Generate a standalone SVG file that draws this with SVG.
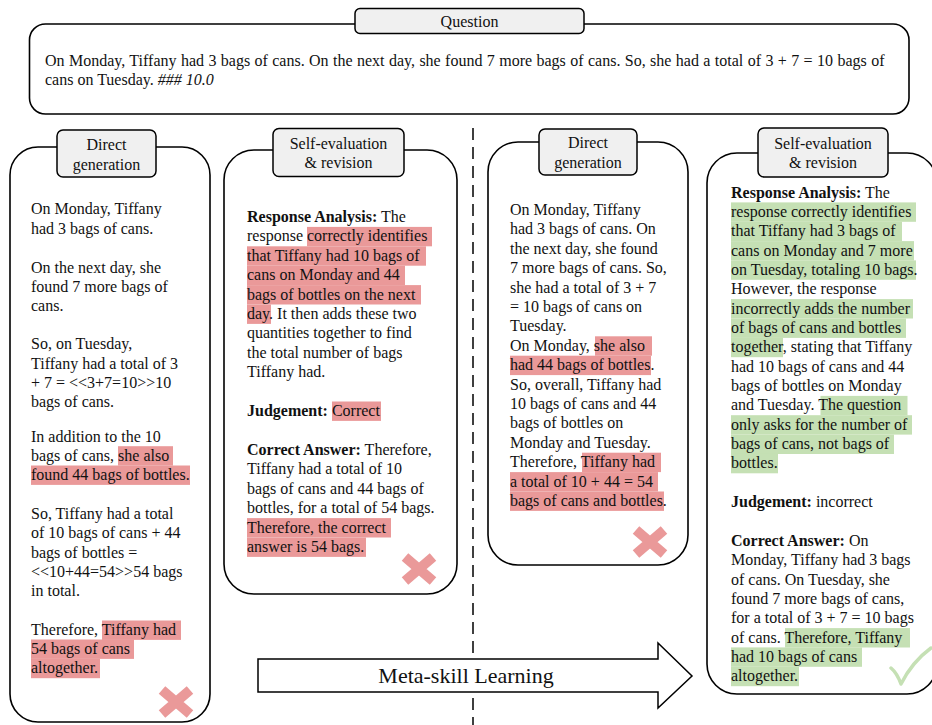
<svg xmlns="http://www.w3.org/2000/svg" width="932" height="725" viewBox="0 0 932 725">
<style>
.t{font-family:"Liberation Serif","Times New Roman",serif;font-size:16px;fill:#111}
.b{font-weight:bold}
.lab{font-family:"Liberation Serif","Times New Roman",serif;font-size:16px;fill:#111;text-anchor:middle}
.box{fill:#fff;stroke:#000;stroke-width:1.6}
.tab{fill:#f0f0f0;stroke:#000;stroke-width:1.5}
.hr{fill:#ea9999}
.hg{fill:#c5e0b4}
.x{stroke:#ea9999;stroke-width:10;fill:none}
</style>
<defs>
<path id="cross" d="M-14,-12 L14,12 M-14,12 L14,-12"/>
</defs>
<rect width="932" height="725" fill="#fff"/>

<g id="connectors">
<line x1="473" y1="128" x2="473" y2="725" stroke="#000" stroke-width="1.5" stroke-dasharray="12,7"/>
<polygon points="258,659 658,659 658,643 692,676 658,708 658,692 258,692" fill="#fff" stroke="#000" stroke-width="1.5"/>
<text x="466" y="683" style="font-family:'Liberation Serif','Times New Roman',serif;font-size:22px;fill:#111;text-anchor:middle">Meta-skill Learning</text>
</g>

<g id="question">
<rect class="box" x="29.5" y="24" width="879.5" height="90" rx="16"/>
<rect class="tab" x="355" y="8.5" width="229" height="25" rx="5"/>
<text class="lab" x="469.5" y="26.5">Question</text>
<text class="t" x="45" y="66" word-spacing="0.4">On Monday, Tiffany had 3 bags of cans. On the next day, she found 7 more bags of cans. So, she had a total of 3 + 7 = 10 bags of</text>
<text class="t" x="45" y="85">cans on Tuesday. <tspan font-style="italic">### 10.0</tspan></text>
</g>

<g id="direct-generation-1">
<rect class="box" x="10" y="147" width="200" height="575" rx="28"/>
<rect class="tab" x="57" y="130" width="99" height="47" rx="6"/>
<text class="lab" x="106.5" y="150">Direct</text>
<text class="lab" x="106.5" y="169.5">generation</text>
<rect class="hr" x="118" y="446.2" width="55" height="19.4"/>
<rect class="hr" x="31" y="465.5" width="159" height="19.4"/>
<rect class="hr" x="102" y="620.5" width="79" height="19.4"/>
<rect class="hr" x="31" y="639.5" width="103" height="19.4"/>
<rect class="hr" x="31" y="658.8" width="69" height="19.4"/>
<text class="t" x="31" y="214">On Monday, Tiffany</text>
<text class="t" x="31" y="233.5">had 3 bags of cans.</text>
<text class="t" x="31" y="272.5">On the next day, she</text>
<text class="t" x="31" y="291.5">found 7 more bags of</text>
<text class="t" x="31" y="310.5">cans.</text>
<text class="t" x="31" y="349">So, on Tuesday,</text>
<text class="t" x="31" y="368.5">Tiffany had a total of 3</text>
<text class="t" x="31" y="387.5">+ 7 = &lt;&lt;3+7=10&gt;&gt;10</text>
<text class="t" x="31" y="407">bags of cans.</text>
<text class="t" x="31" y="441.7">In addition to the 10</text>
<text class="t" x="31" y="460.7">bags of cans, she also</text>
<text class="t" x="31" y="480">found 44 bags of bottles.</text>
<text class="t" x="31" y="519">So, Tiffany had a total</text>
<text class="t" x="31" y="538.3">of 10 bags of cans + 44</text>
<text class="t" x="31" y="557.6">bags of bottles =</text>
<text class="t" x="31" y="576.9">&lt;&lt;10+44=54&gt;&gt;54 bags</text>
<text class="t" x="31" y="596.2">in total.</text>
<text class="t" x="31" y="635">Therefore, Tiffany had</text>
<text class="t" x="31" y="654">54 bags of cans</text>
<text class="t" x="31" y="673.3">altogether.</text>
<use href="#cross" class="x" transform="translate(176,702)"/>
</g>

<g id="self-evaluation-1">
<rect class="box" x="224" y="150" width="233" height="444" rx="30"/>
<rect class="tab" x="273" y="128.5" width="131" height="48" rx="6"/>
<text class="lab" x="338.5" y="149">Self-evaluation</text>
<text class="lab" x="338.5" y="168">&amp; revision</text>
<rect class="hr" x="307" y="226.9" width="125" height="19.4"/>
<rect class="hr" x="247" y="246.3" width="179" height="19.4"/>
<rect class="hr" x="247" y="265.7" width="158" height="19.4"/>
<rect class="hr" x="247" y="285.1" width="174" height="19.4"/>
<rect class="hr" x="247" y="304.5" width="24" height="19.4"/>
<rect class="hr" x="332" y="401.5" width="49" height="19.4"/>
<rect class="hr" x="247" y="518.1" width="144" height="19.4"/>
<rect class="hr" x="247" y="537.5" width="119" height="19.4"/>
<text class="t" x="247" y="222"><tspan class="b">Response Analysis:</tspan> The</text>
<text class="t" x="247" y="241.4">response correctly identifies</text>
<text class="t" x="247" y="260.8">that Tiffany had 10 bags of</text>
<text class="t" x="247" y="280.2">cans on Monday and 44</text>
<text class="t" x="247" y="299.6">bags of bottles on the next</text>
<text class="t" x="247" y="319">day. It then adds these two</text>
<text class="t" x="247" y="338.4">quantities together to find</text>
<text class="t" x="247" y="357.8">the total number of bags</text>
<text class="t" x="247" y="377.2">Tiffany had.</text>
<text class="t" x="247" y="416"><tspan class="b">Judgement:</tspan> Correct</text>
<text class="t" x="247" y="455"><tspan class="b">Correct Answer:</tspan> Therefore,</text>
<text class="t" x="247" y="474.4">Tiffany had a total of 10</text>
<text class="t" x="247" y="493.8">bags of cans and 44 bags of</text>
<text class="t" x="247" y="513.2">bottles, for a total of 54 bags.</text>
<text class="t" x="247" y="532.6">Therefore, the correct</text>
<text class="t" x="247" y="552">answer is 54 bags.</text>
<use href="#cross" class="x" transform="translate(419,569)"/>
</g>

<g id="direct-generation-2">
<rect class="box" x="488" y="142" width="200" height="423" rx="30"/>
<rect class="tab" x="539" y="129" width="98" height="46" rx="6"/>
<text class="lab" x="588" y="148">Direct</text>
<text class="lab" x="588" y="167.5">generation</text>
<rect class="hr" x="595" y="336.3" width="57" height="19.4"/>
<rect class="hr" x="510" y="355.7" width="141" height="19.4"/>
<rect class="hr" x="582" y="452.7" width="79" height="19.4"/>
<rect class="hr" x="510" y="472.1" width="148" height="19.4"/>
<rect class="hr" x="510" y="491.5" width="154" height="19.4"/>
<text class="t" x="510" y="215">On Monday, Tiffany</text>
<text class="t" x="510" y="234.4">had 3 bags of cans. On</text>
<text class="t" x="510" y="253.8">the next day, she found</text>
<text class="t" x="510" y="273.2">7 more bags of cans. So,</text>
<text class="t" x="510" y="292.6">she had a total of 3 + 7</text>
<text class="t" x="510" y="312">= 10 bags of cans on</text>
<text class="t" x="510" y="331.4">Tuesday.</text>
<text class="t" x="510" y="350.8">On Monday, she also</text>
<text class="t" x="510" y="370.2">had 44 bags of bottles.</text>
<text class="t" x="510" y="389.6">So, overall, Tiffany had</text>
<text class="t" x="510" y="409">10 bags of cans and 44</text>
<text class="t" x="510" y="428.4">bags of bottles on</text>
<text class="t" x="510" y="447.8">Monday and Tuesday.</text>
<text class="t" x="510" y="467.2">Therefore, Tiffany had</text>
<text class="t" x="510" y="486.6">a total of 10 + 44 = 54</text>
<text class="t" x="510" y="506">bags of cans and bottles.</text>
<use href="#cross" class="x" transform="translate(650,542)"/>
</g>

<g id="self-evaluation-2">
<rect class="box" x="707" y="153" width="230" height="541" rx="30"/>
<rect class="tab" x="758" y="128" width="130" height="49" rx="6"/>
<text class="lab" x="823" y="149">Self-evaluation</text>
<text class="lab" x="823" y="167.5">&amp; revision</text>
<rect class="hg" x="731" y="202.4" width="185" height="19.4"/>
<rect class="hg" x="731" y="221.7" width="171" height="19.4"/>
<rect class="hg" x="731" y="241.1" width="183" height="19.4"/>
<rect class="hg" x="731" y="260.4" width="185" height="19.4"/>
<rect class="hg" x="731" y="299.1" width="182" height="19.4"/>
<rect class="hg" x="731" y="318.5" width="175" height="19.4"/>
<rect class="hg" x="731" y="337.8" width="52" height="19.4"/>
<rect class="hg" x="820.5" y="395.9" width="87" height="19.4"/>
<rect class="hg" x="731" y="415.2" width="181" height="19.4"/>
<rect class="hg" x="731" y="434.6" width="163" height="19.4"/>
<rect class="hg" x="731" y="453.9" width="47" height="19.4"/>
<rect class="hg" x="785" y="628.1" width="125" height="19.4"/>
<rect class="hg" x="731" y="647.4" width="131" height="19.4"/>
<rect class="hg" x="731" y="666.8" width="68" height="19.4"/>
<text class="t" x="731" y="197.5"><tspan class="b">Response Analysis:</tspan> The</text>
<text class="t" x="731" y="216.9">response correctly identifies</text>
<text class="t" x="731" y="236.2">that Tiffany had 3 bags of</text>
<text class="t" x="731" y="255.6">cans on Monday and 7 more</text>
<text class="t" x="731" y="274.9">on Tuesday, totaling 10 bags.</text>
<text class="t" x="731" y="294.3">However, the response</text>
<text class="t" x="731" y="313.6">incorrectly adds the number</text>
<text class="t" x="731" y="333">of bags of cans and bottles</text>
<text class="t" x="731" y="352.3">together, stating that Tiffany</text>
<text class="t" x="731" y="371.7">had 10 bags of cans and 44</text>
<text class="t" x="731" y="391">bags of bottles on Monday</text>
<text class="t" x="731" y="410.4">and Tuesday. The question</text>
<text class="t" x="731" y="429.7">only asks for the number of</text>
<text class="t" x="731" y="449.1">bags of cans, not bags of</text>
<text class="t" x="731" y="468.4">bottles.</text>
<text class="t" x="731" y="507.1"><tspan class="b">Judgement:</tspan> incorrect</text>
<text class="t" x="731" y="545.8"><tspan class="b">Correct Answer:</tspan> On</text>
<text class="t" x="731" y="565.2">Monday, Tiffany had 3 bags</text>
<text class="t" x="731" y="584.5">of cans. On Tuesday, she</text>
<text class="t" x="731" y="603.9">found 7 more bags of cans,</text>
<text class="t" x="731" y="623.2">for a total of 3 + 7 = 10 bags</text>
<text class="t" x="731" y="642.6">of cans. Therefore, Tiffany</text>
<text class="t" x="731" y="661.9">had 10 bags of cans</text>
<text class="t" x="731" y="681.3">altogether.</text>
<path d="M891,668 Q897,673 901,684 Q912,662 931,648" fill="none" stroke="#c5e0b4" stroke-width="3.5" stroke-linecap="round" stroke-linejoin="round"/>
</g>
</svg>
